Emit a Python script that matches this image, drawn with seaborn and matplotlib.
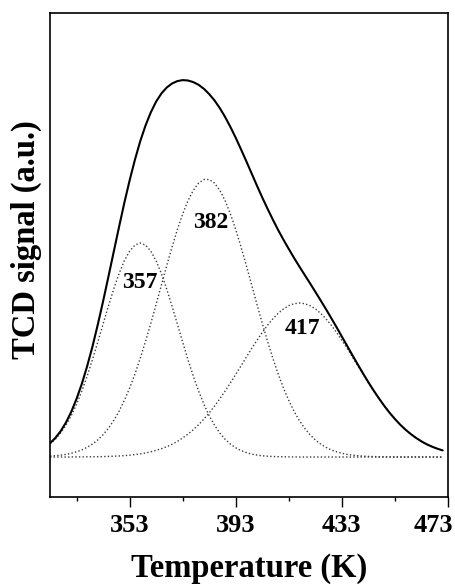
import matplotlib
matplotlib.use("Agg")
import matplotlib.pyplot as plt
import matplotlib.transforms as mtransforms
import seaborn as sns
import pandas as pd
from matplotlib.ticker import FixedLocator

# ---- data (arbitrary TCD units) ----
temperature_K = [323, 325, 327, 329, 331, 333, 335, 337, 339, 341, 343, 345, 347, 349, 351,
                 353, 355, 357, 359, 361, 363, 365, 367, 369, 371, 373, 375, 377, 379, 381,
                 383, 385, 387, 389, 391, 393, 395, 397, 399, 401, 403, 405, 407, 409, 411,
                 413, 415, 417, 419, 421, 423, 425, 427, 429, 431, 433, 435, 437, 439, 441,
                 443, 445, 447, 449, 451, 453, 455, 457, 459, 461, 463, 465, 467, 469, 471]

tcd_signal = [13.8, 19.0, 25.8, 34.4, 45.1, 58.1, 73.2, 90.8, 110.4, 132.3, 155.6, 180.1, 205.0, 229.8, 254.0,
              276.5, 297.2, 315.7, 331.5, 344.7, 355.4, 363.6, 369.5, 373.5, 375.9, 376.9, 376.5, 374.9, 372.2, 368.2,
              362.9, 356.6, 348.9, 340.0, 330.0, 319.2, 307.6, 295.7, 283.5, 271.3, 259.5, 248.2, 237.3, 226.9, 217.2,
              208.0, 199.0, 190.4, 182.0, 173.7, 165.2, 156.6, 147.9, 138.9, 129.8, 120.4, 111.1, 101.7, 92.5, 83.5,
              74.7, 66.4, 58.5, 51.1, 44.2, 38.0, 32.3, 27.3, 22.9, 19.0, 15.6, 12.7, 10.3, 8.3, 6.6]

peak_357 = [12.9, 17.7, 24.0, 31.8, 41.3, 52.8, 66.0, 80.9, 97.3, 114.9, 132.9, 150.8, 167.8, 183.2, 196.1,
            205.8, 211.9, 214.0, 211.9, 205.8, 196.1, 183.2, 167.8, 150.8, 132.9, 114.9, 97.3, 80.9, 66.0, 52.8,
            41.3, 31.8, 24.0, 17.7, 12.9, 9.2, 6.4, 4.4, 2.9, 1.9, 1.2, 0.8, 0.5, 0.3, 0.2,
            0.1, 0.1, 0.0, 0.0, 0.0, 0.0, 0.0, 0.0, 0.0, 0.0, 0.0, 0.0, 0.0, 0.0, 0.0,
            0.0, 0.0, 0.0, 0.0, 0.0, 0.0, 0.0, 0.0, 0.0, 0.0, 0.0, 0.0, 0.0, 0.0, 0.0]

peak_382 = [0.9, 1.3, 1.8, 2.6, 3.7, 5.2, 7.1, 9.7, 12.9, 17.1, 22.3, 28.7, 36.4, 45.6, 56.5,
            68.9, 82.9, 98.6, 115.6, 133.7, 152.7, 172.1, 191.4, 210.0, 227.4, 243.0, 256.3, 266.7, 273.9, 277.5,
            277.5, 273.9, 266.7, 256.3, 243.0, 227.4, 210.0, 191.4, 172.1, 152.7, 133.7, 115.6, 98.6, 82.9, 68.9,
            56.5, 45.6, 36.4, 28.7, 22.3, 17.1, 12.9, 9.7, 7.1, 5.2, 3.7, 2.6, 1.8, 1.3, 0.9,
            0.6, 0.4, 0.3, 0.2, 0.1, 0.1, 0.0, 0.0, 0.0, 0.0, 0.0, 0.0, 0.0, 0.0, 0.0]

peak_417 = [0.0, 0.0, 0.0, 0.0, 0.1, 0.1, 0.1, 0.2, 0.2, 0.3, 0.4, 0.6, 0.8, 1.0, 1.4,
            1.8, 2.4, 3.1, 4.0, 5.2, 6.6, 8.3, 10.3, 12.7, 15.6, 19.0, 22.9, 27.3, 32.3, 37.9,
            44.1, 50.9, 58.2, 66.0, 74.1, 82.6, 91.2, 99.9, 108.5, 116.7, 124.6, 131.8, 138.2, 143.7, 148.1,
            151.4, 153.3, 154.0, 153.3, 151.4, 148.1, 143.7, 138.2, 131.8, 124.6, 116.7, 108.5, 99.9, 91.2, 82.6,
            74.1, 66.0, 58.2, 50.9, 44.1, 37.9, 32.3, 27.3, 22.9, 19.0, 15.6, 12.7, 10.3, 8.3, 6.6]

peak_labels = ["357", "382", "417"]
label_T = [357.0, 383.5, 418.0]
label_signal = [174, 235, 129]

major_ticks = [353, 393, 433, 473]
minor_ticks = [333, 373, 413, 453]

# ---- style ----
sns.set_style("ticks")
plt.rcParams["font.family"] = ["Liberation Serif", "DejaVu Serif"]
plt.rcParams["font.weight"] = "bold"
plt.rcParams["axes.labelweight"] = "bold"
plt.rcParams["text.color"] = "black"
plt.rcParams["axes.labelcolor"] = "black"
plt.rcParams["xtick.color"] = "black"

df = pd.DataFrame({
    "T": temperature_K,
    "signal": tcd_signal,
    "p357": peak_357,
    "p382": peak_382,
    "p417": peak_417,
})

fig = plt.figure(figsize=(4.56, 5.84), dpi=100)
ax = fig.add_axes([50 / 456, 87 / 584, 398 / 456, 484 / 584])

for col in ["p357", "p382", "p417"]:
    sns.lineplot(data=df, x="T", y=col, ax=ax, color="#3c3c3c", linewidth=1.0,
                 linestyle=(0, (1, 1.6)), zorder=2)

sns.lineplot(data=df, x="T", y="signal", ax=ax, color="black", linewidth=1.5, zorder=3)

for lab, tx, ty in zip(peak_labels, label_T, label_signal):
    ax.text(tx, ty, lab, ha="center", va="center", fontsize=17, fontweight="bold",
            color="black", zorder=4)

ax.set_xlim(323, 473)
ax.set_ylim(-40, 444)
ax.set_yticks([])
ax.xaxis.set_major_locator(FixedLocator(major_ticks))
ax.xaxis.set_minor_locator(FixedLocator(minor_ticks))
ax.tick_params(axis="x", which="major", direction="out", length=7, width=1.0,
               labelsize=19, pad=5, colors="black")
ax.tick_params(axis="x", which="minor", direction="out", length=3, width=1.0)
for s in ax.spines.values():
    s.set_visible(True)
    s.set_linewidth(1.2)
    s.set_color("black")

# last tick label sits inside the figure edge, as in the reference
fig.canvas.draw()
last = ax.get_xticklabels()[-1]
last.set_transform(last.get_transform() +
                   mtransforms.ScaledTranslation(-15 / 100, 0, fig.dpi_scale_trans))

ax.set_xlabel("Temperature (K)", fontsize=23.5, fontweight="bold", labelpad=12)
ax.set_ylabel("TCD signal (a.u.)", fontsize=23.5, fontweight="bold")
ax.yaxis.set_label_coords(-0.02, 0.531)

fig.savefig("out.png", dpi=100)
